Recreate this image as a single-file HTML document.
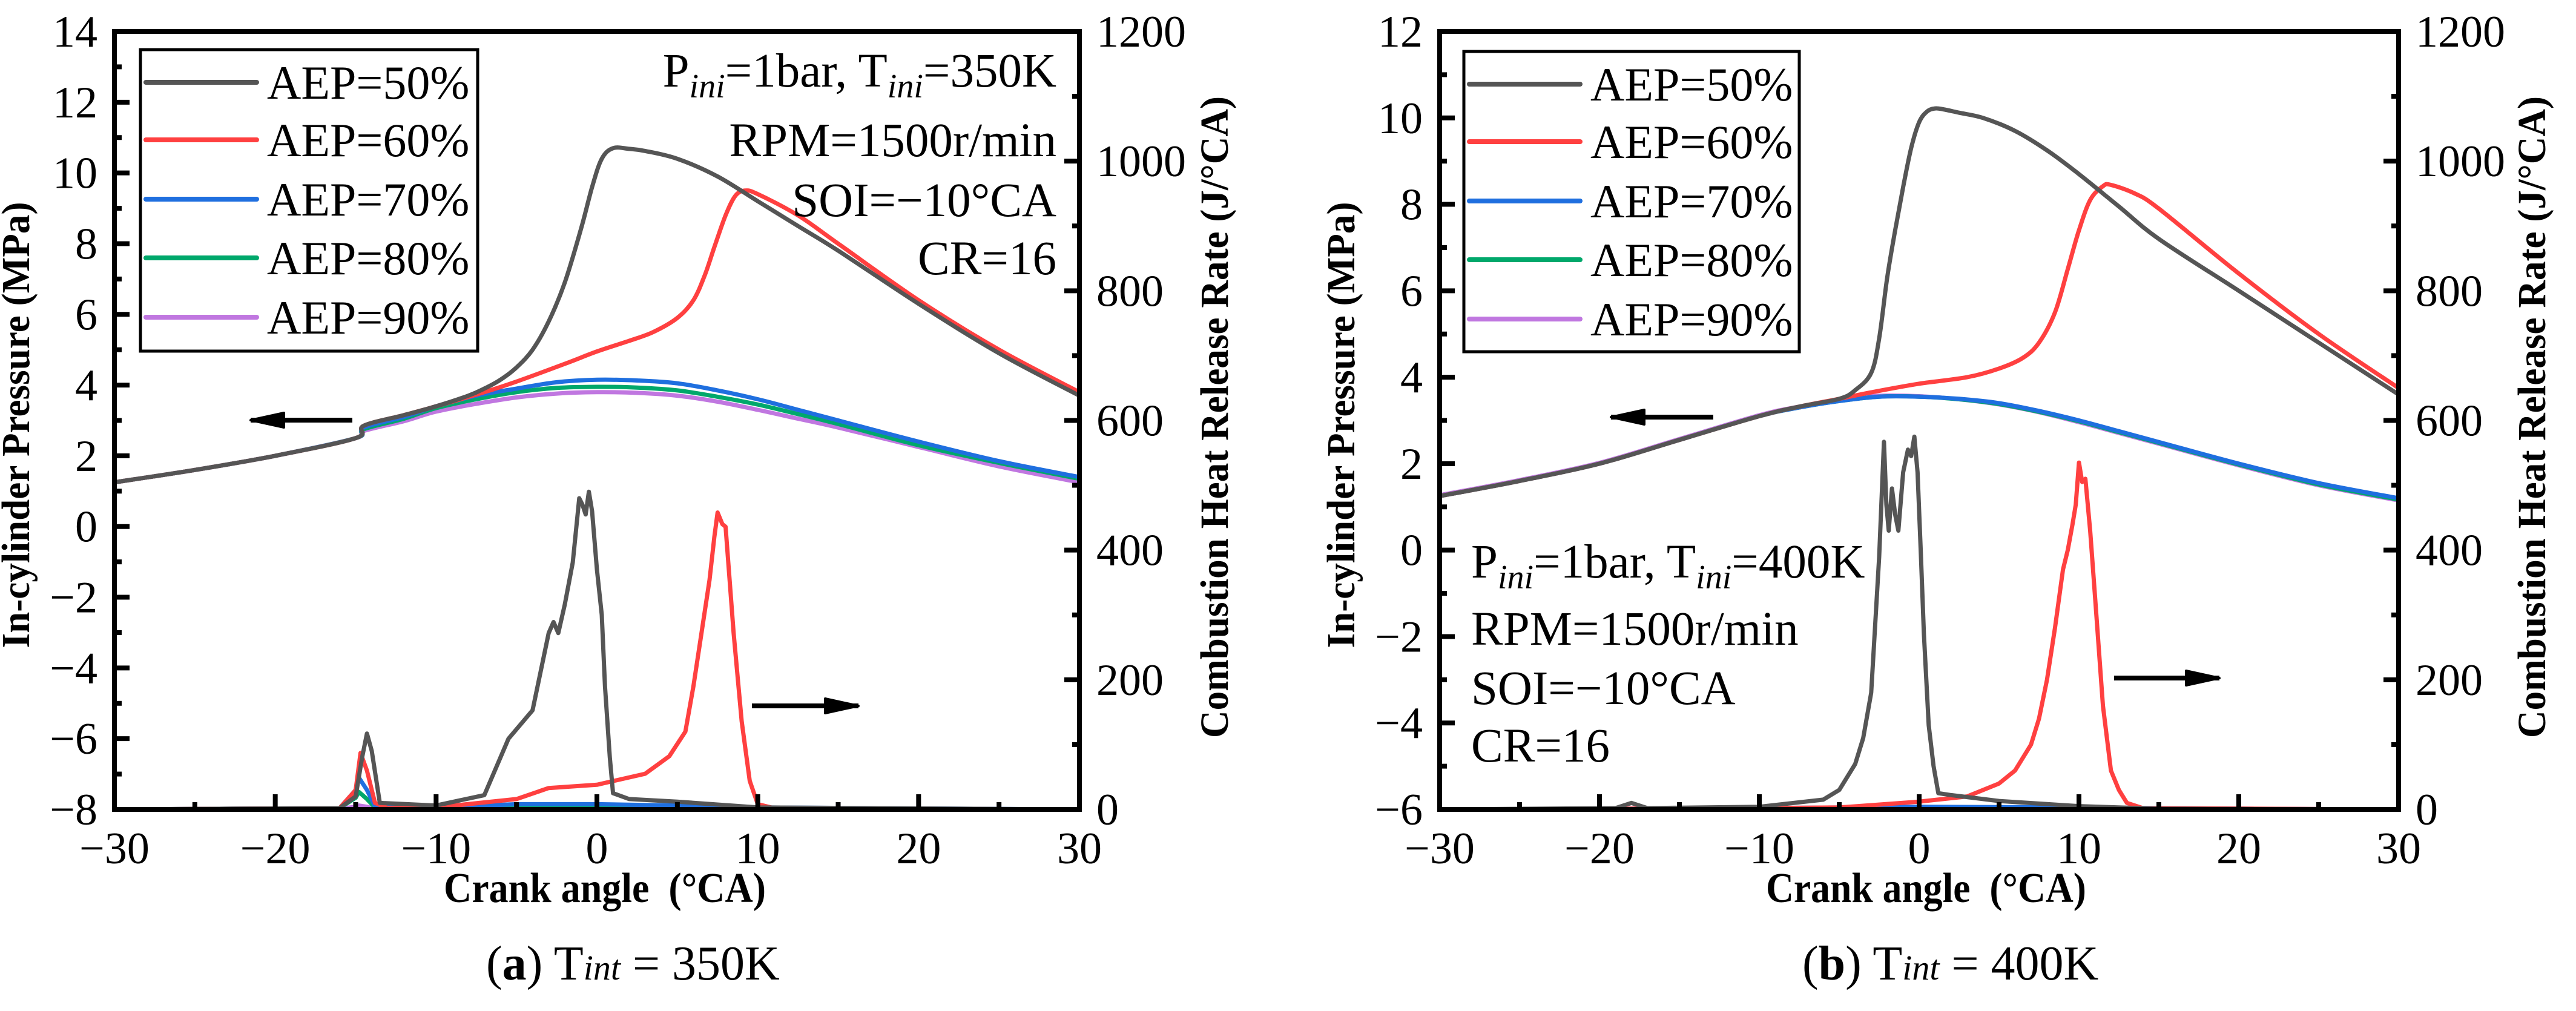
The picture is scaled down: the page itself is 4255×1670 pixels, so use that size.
<!DOCTYPE html>
<html><head><meta charset="utf-8"><title>In-cylinder pressure and heat release rate charts</title>
<style>
html,body{margin:0;padding:0;background:#fff;}
svg, svg text{font-family:"Liberation Serif","Times New Roman",serif;}
</style></head>
<body>
<svg id="chart" width="4255" height="1665" viewBox="0 0 4255 1665" font-family="Liberation Serif, serif" xmlns="http://www.w3.org/2000/svg"></svg>
<script>
// ---------- Shared data ----------
const seriesNames = ["AEP=50%","AEP=60%","AEP=70%","AEP=80%","AEP=90%"];
const seriesColors = ["#555555","#ff4040","#1f6fdf","#00a86b","#c077e0"];
const xTicks = [-30,-20,-10,0,10,20,30];
const rightTicks = [0,200,400,600,800,1000,1200];

// ---------- Panel (a) T=350K : pressure (MPa) ----------
const aP50x = [-30,-25,-20,-15,-14.5,-12,-10,-8,-7,-6,-5,-4,-3,-2,-1,-0.3,0.3,1,2,3,5,7.5,10,12.5,15,20,25,30];
const aP50y = [1.25,1.6,2.0,2.5,2.85,3.15,3.4,3.7,3.9,4.15,4.5,5.0,5.8,6.9,8.4,9.6,10.4,10.7,10.68,10.62,10.4,9.9,9.2,8.5,7.8,6.3,4.9,3.7];
const aP60x = [-30,-25,-20,-15,-14.5,-12,-10,-7,-5,-2,0,2,3.5,5,6,6.7,7.3,8,8.6,9.2,10,12.5,15,20,25,30];
const aP60y = [1.25,1.6,2.0,2.5,2.85,3.15,3.4,3.8,4.1,4.6,4.95,5.25,5.5,5.9,6.4,7.1,7.9,8.8,9.35,9.5,9.4,8.8,8.0,6.4,5.0,3.8];
const aP70x = [-30,-25,-20,-15,-14.5,-12,-10,-7.5,-5,-2.5,0,2.5,5,7.5,10,12.5,15,20,25,30];
const aP70y = [1.25,1.6,2.0,2.5,2.8,3.1,3.4,3.7,3.9,4.08,4.15,4.13,4.05,3.85,3.6,3.3,3.0,2.4,1.85,1.4];
const aP80y = [1.25,1.6,2.0,2.5,2.75,3.05,3.35,3.6,3.8,3.92,3.95,3.93,3.85,3.67,3.45,3.18,2.9,2.3,1.8,1.35];
const aP90y = [1.25,1.6,2.0,2.5,2.7,2.98,3.25,3.47,3.65,3.76,3.8,3.78,3.7,3.53,3.3,3.05,2.8,2.25,1.7,1.25];
// ---------- Panel (a) : heat release rate (J/°CA) ----------
const aH50x = [-30,-16,-15,-14.6,-14.3,-14,-13.5,-10,-7,-5.5,-4,-3,-2.7,-2.4,-2,-1.5,-1.1,-0.9,-0.7,-0.5,-0.3,0,0.3,0.5,0.8,1,2,5,10,30];
const aH50y = [0,2,20,80,117,90,10,6,22,109,153,272,289,272,316,381,480,470,455,490,460,370,300,190,80,25,16,12,3,0];
const aH60x = [-30,-16,-15,-14.7,-14.3,-13.8,-13,-10,-5,-3,0,3,4.5,5.5,6,6.5,7,7.3,7.5,7.8,8,8.5,9,9.5,10,11,30];
const aH60y = [0,2,30,87,60,10,2,3,16,33,38,55,82,120,190,272,354,420,458,440,436,272,136,44,8,2,0];
const aH70x = [-30,-16,-15,-14.8,-14.3,-13.8,-10,-5,0,5,10,30];
const aH70y = [0,2,30,49,30,5,3,8,8,6,3,0];
const aH80y = [0,2,18,27,16,3,2,4,4,3,2,0];
const aH90y = [0,1,4,6,4,1,1,1,1,1,1,0];

// ---------- Panel (b) T=400K : pressure (MPa) ----------
const bP50x = [-30,-25,-20,-15,-10,-7.5,-5,-4,-3,-2.5,-2,-1.5,-1,-0.5,0,0.5,1,1.5,2.5,4,6,8,10,12.5,15,20,25,30];
const bP50y = [1.25,1.6,2.0,2.55,3.1,3.32,3.5,3.7,4.1,4.9,6.3,7.4,8.4,9.3,9.9,10.15,10.22,10.2,10.12,10.0,9.7,9.25,8.7,7.95,7.2,6.0,4.8,3.6];
const bP60x = [-30,-25,-20,-15,-10,-7.5,-5,-3,0,3,5,6.5,7.5,8.5,9.3,10,10.7,11.5,12,13.5,15,20,25,30];
const bP60y = [1.25,1.6,2.0,2.55,3.1,3.32,3.5,3.65,3.85,4.0,4.2,4.45,4.8,5.5,6.5,7.4,8.1,8.42,8.45,8.25,7.9,6.4,5.0,3.75];
const bP70x = [-30,-25,-20,-15,-10,-7.5,-5,-2.5,0,2.5,5,7.5,10,12.5,15,20,25,30];
const bP70y = [1.25,1.6,2.0,2.55,3.1,3.3,3.45,3.55,3.55,3.5,3.4,3.22,3.0,2.75,2.5,2.0,1.55,1.2];
const bP80y = [1.25,1.6,2.0,2.55,3.1,3.3,3.45,3.55,3.55,3.49,3.38,3.2,2.98,2.73,2.48,1.98,1.52,1.17];
const bP90y = [1.27,1.62,2.02,2.57,3.12,3.32,3.47,3.57,3.56,3.49,3.37,3.19,2.96,2.71,2.46,1.96,1.5,1.15];
// ---------- Panel (b) : heat release rate (J/°CA) ----------
const bH50x = [-30,-19,-18,-17,-10,-6,-5,-4,-3.5,-3,-2.5,-2.2,-2.05,-1.9,-1.7,-1.5,-1.3,-1,-0.7,-0.5,-0.3,-0.1,0.1,0.3,0.6,0.9,1.2,2,5,10,15,30];
const bH50y = [0,2,10,2,4,15,30,70,110,180,390,567,470,430,495,455,430,520,555,545,575,520,400,270,130,67,25,22,13,5,1,0];
const bH60x = [-30,-10,-5,0,3,5,6,7,7.5,8,8.5,9,9.3,9.6,9.8,10,10.2,10.4,10.7,11,11.5,12,12.5,13,14,30];
const bH60y = [0,2,3,12,20,40,60,100,140,200,280,370,400,440,470,535,505,510,430,330,160,60,30,10,2,0];
const bH70x = [-30,-10,0,10,20,30];
const bH70y = [0,2,4,3,1,0];
const bH80y = [0,1,2,2,1,0];
const bH90y = [0,1,1,1,1,0];

const NS = "http://www.w3.org/2000/svg";
const svg = document.getElementById("chart");
const FF = "Liberation Serif, Times New Roman, serif";
function mk(tag, attrs, parent){
  const e = document.createElementNS(NS, tag);
  for (const k in attrs) e.setAttribute(k, attrs[k]);
  if (tag === "text") e.setAttribute("font-family", FF);
  (parent||svg).appendChild(e);
  return e;
}

function drawPanel(cfg){
  const g = mk("g", {});
  
  
  const L=cfg.left, R=cfg.right, T=52, B=1337;
  const sx = v => L + (v+30)/60*(R-L);
  const syL = v => B - (v-cfg.yMin)/(cfg.yMax-cfg.yMin)*(B-T);
  const syR = v => B - v/1200*(B-T);

  const sg = mk("g", {fill:"none","stroke-width":7,"stroke-linejoin":"round","stroke-linecap":"round"}, g);
  
  
  function line(xs, ys, fy, color, name, smooth){
    const P = xs.map((x,i)=>[sx(x), fy(ys[i])]);
    let d = "M" + P[0][0].toFixed(1) + "," + P[0][1].toFixed(1);
    for (let i=0;i<P.length-1;i++){
      if (!smooth){ d += "L" + P[i+1][0].toFixed(1) + "," + P[i+1][1].toFixed(1); continue; }
      const p0 = P[Math.max(0,i-1)], p1 = P[i], p2 = P[i+1], p3 = P[Math.min(P.length-1,i+2)];
      const c1 = [p1[0]+(p2[0]-p0[0])/6, p1[1]+(p2[1]-p0[1])/6];
      const c2 = [p2[0]-(p3[0]-p1[0])/6, p2[1]-(p3[1]-p1[1])/6];
      d += "C" + c1[0].toFixed(1)+","+c1[1].toFixed(1)+" "+c2[0].toFixed(1)+","+c2[1].toFixed(1)+" "+p2[0].toFixed(1)+","+p2[1].toFixed(1);
    }
    const p = mk("path", {d:d, stroke:color}, sg);
    
    
  }
  const order = [4,3,2,1,0];
  order.forEach(i => line(cfg.hx[i], cfg.hy[i], syR, seriesColors[i], cfg.id + '-hrr-' + seriesNames[i].slice(4,6), false));
  order.forEach(i => line(cfg.px[i], cfg.py[i], syL, seriesColors[i], cfg.id + '-pressure-' + seriesNames[i].slice(4,6), true));

  const frame = mk("rect", {x:L, y:T, width:R-L, height:B-T, fill:"none", stroke:"#000", "stroke-width":8}, g);
  
  

  const tg = mk("g", {stroke:"#000","stroke-width":8}, g);
  
  
  for (let v=-25; v<30; v+=5){
    const len = v%10===0 ? 25 : 12;
    mk("line", {x1:sx(v), x2:sx(v), y1:B, y2:B-len}, tg);
  }
  for (let v=cfg.yMin+1; v<cfg.yMax; v+=1){
    const len = (v-cfg.yMin)%2===0 ? 25 : 12;
    mk("line", {x1:L, x2:L+len, y1:syL(v), y2:syL(v)}, tg);
  }
  for (let v=100; v<1200; v+=100){
    const len = v%200===0 ? 25 : 12;
    mk("line", {x1:R, x2:R-len, y1:syR(v), y2:syR(v)}, tg);
  }

  xTicks.forEach(v => {
    const t = mk("text", {x:sx(v), y:1426, "font-size":74, "text-anchor":"middle"}, g);
    
    
    t.textContent = v<0 ? "\u2212"+(-v) : String(v);
  });
  cfg.leftTicks.forEach(v => {
    const t = mk("text", {x:L-28, y:syL(v)+25, "font-size":74, "text-anchor":"end"}, g);
    
    
    t.textContent = v<0 ? "\u2212"+(-v) : String(v);
  });
  rightTicks.forEach(v => {
    const t = mk("text", {x:R+28, y:syR(v)+25, "font-size":74, "text-anchor":"start"}, g);
    
    
    t.textContent = String(v);
  });

  const xt = mk("text", {x:cfg.xTitle[0], y:1490, "font-size":70, "font-weight":"bold", textLength:cfg.xTitle[1]-cfg.xTitle[0], lengthAdjust:"spacingAndGlyphs"}, g);
  
  
  xt.textContent = "Crank angle\u00a0\u00a0(\u00b0CA)";
  const lt = mk("text", {x:0, y:0, "font-size":66, "font-weight":"bold", "text-anchor":"middle", textLength:737, lengthAdjust:"spacingAndGlyphs", transform:"translate("+(cfg.lTitleX+22)+",702) rotate(-90)"}, g);
  
  
  lt.textContent = "In-cylinder Pressure (MPa)";
  const rt = mk("text", {x:0, y:0, "font-size":66, "font-weight":"bold", "text-anchor":"middle", textLength:1060, lengthAdjust:"spacingAndGlyphs", transform:"translate("+(cfg.rTitleX+22)+",689) rotate(-90)"}, g);
  
  
  rt.textContent = "Combustion Heat Release Rate (J/\u00b0CA)";

  const lg = mk("g", {}, g);
  
  
  const lb = mk("rect", {x:cfg.legend[0], y:cfg.legend[1], width:cfg.legend[2]-cfg.legend[0], height:cfg.legend[3]-cfg.legend[1], fill:"#fff", stroke:"#000", "stroke-width":5}, lg);
  
  
  const rows = [136,231,329,426,524];
  seriesNames.forEach((n,i) => {
    const ls = mk("line", {x1:cfg.legend[0]+9, x2:cfg.legend[0]+192, y1:rows[i]+cfg.legDy, y2:rows[i]+cfg.legDy, stroke:seriesColors[i], "stroke-width":8, "stroke-linecap":"round"}, lg);
    
    
    const lt2 = mk("text", {x:cfg.legend[0]+209, y:rows[i]+cfg.legDy+27, "font-size":78}, lg);
    
    
    lt2.textContent = n;
  });

  const ag = mk("g", {"font-size":79}, g);
  
  
  const a = cfg.ann;
  const l1 = mk("text", {x:a.x, y:a.y[0], "text-anchor":a.anchor, "font-size":79}, ag);
  l1.innerHTML = 'P<tspan font-style="italic" font-size="56" dy="18">ini</tspan><tspan dy="-18">=1bar, T</tspan><tspan font-style="italic" font-size="56" dy="18">ini</tspan><tspan dy="-18">='+a.temp+'</tspan>';
  ["RPM=1500r/min","SOI=\u221210\u00b0CA","CR=16"].forEach((s,i) => {
    const t = mk("text", {x:a.x, y:a.y[i+1], "text-anchor":a.anchor, "font-size":79}, ag);
    t.textContent = s;
  });

  function arrow(x1, x2, y, dir, name){
    const ar = mk("g", {}, g);
    
    
    mk("line", {x1:x1, x2:x2, y1:y, y2:y, stroke:"#000", "stroke-width":8}, ar);
    const tip = dir<0 ? x1 : x2;
    const base = tip - dir*55;
    mk("path", {d:"M"+tip+","+y+" L"+base+","+(y-12)+" L"+base+","+(y+12)+" Z", fill:"#000", stroke:"#000", "stroke-width":4, "stroke-linejoin":"round"}, ar);
  }
  arrow(cfg.arrL[0], cfg.arrL[1], cfg.arrL[2], -1, 'left-axis-arrow');
  arrow(cfg.arrR[0], cfg.arrR[1], cfg.arrR[2], 1, 'right-axis-arrow');

  const cap = mk("text", {x:cfg.cap, y:1618, "font-size":80}, g);
  
  
  cap.innerHTML = '(<tspan font-weight="bold">'+cfg.letter+'</tspan>) T<tspan font-style="italic" font-size="58">int</tspan> = '+cfg.capT;
}

drawPanel({
  id:"panel-a", left:189, right:1783, yMin:-8, yMax:14,
  leftTicks:[-8,-6,-4,-2,0,2,4,6,8,10,12,14],
  px:[aP50x,aP60x,aP70x,aP70x,aP70x], py:[aP50y,aP60y,aP70y,aP80y,aP90y],
  hx:[aH50x,aH60x,aH70x,aH70x,aH70x], hy:[aH50y,aH60y,aH70y,aH80y,aH90y],
  xTitle:[733,1265], lTitleX:26, rTitleX:2006,
  legend:[232,82,789,580], legDy:0,
  ann:{x:1745, anchor:"end", temp:"350K", y:[143,258,357,453]},
  arrL:[414,582,694], arrR:[1242,1418,1166],
  cap:803, letter:"a", capT:"350K"
});
drawPanel({
  id:"panel-b", left:2378, right:3962, yMin:-6, yMax:12,
  leftTicks:[-6,-4,-2,0,2,4,6,8,10,12],
  px:[bP50x,bP60x,bP70x,bP70x,bP70x], py:[bP50y,bP60y,bP70y,bP80y,bP90y],
  hx:[bH50x,bH60x,bH70x,bH70x,bH70x], hy:[bH50y,bH60y,bH70y,bH80y,bH90y],
  xTitle:[2917,3446], lTitleX:2215, rTitleX:4182,
  legend:[2418,85,2972,581], legDy:3,
  ann:{x:2430, anchor:"start", temp:"400K", y:[954,1065,1163,1258]},
  arrL:[2661,2830,689], arrR:[3492,3666,1120],
  cap:2977, letter:"b", capT:"400K"
});
</script>
</body></html>
